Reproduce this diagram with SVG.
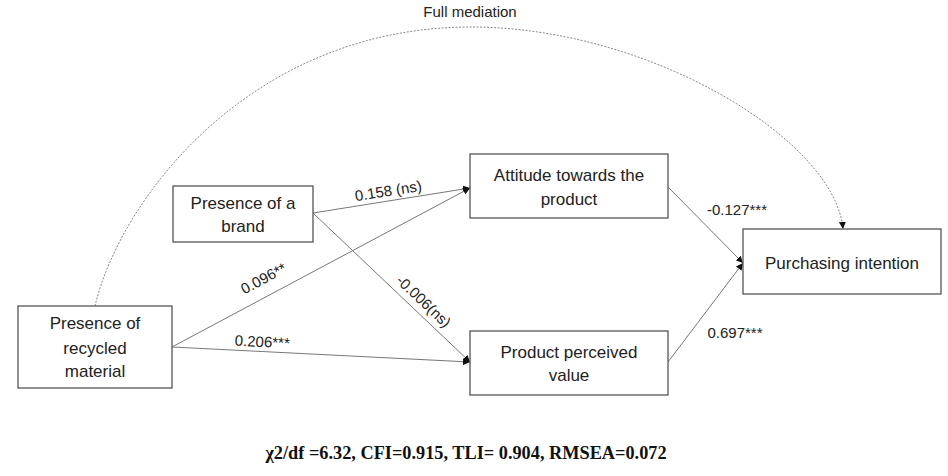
<svg xmlns="http://www.w3.org/2000/svg" width="948" height="476" viewBox="0 0 948 476">
<style>
.box{fill:#fff;stroke:#555;stroke-width:1.3}
.nt{font-family:"Liberation Sans",Arial,sans-serif;font-size:17px;fill:#222;text-anchor:middle;dominant-baseline:central}
.el{font-family:"Liberation Sans",Arial,sans-serif;font-size:15px;fill:#222;text-anchor:middle}
.ln{fill:none;stroke:#777;stroke-width:1;marker-end:url(#ah)}
.dash{fill:none;stroke:#888;stroke-width:1;stroke-dasharray:2 1.5;marker-end:url(#ah)}
</style>
<defs>
<marker id="ah" viewBox="0 0 10 10" refX="10" refY="5" markerWidth="7" markerHeight="7" markerUnits="userSpaceOnUse" orient="auto">
<path d="M0,0 L10,5 L0,10 z" fill="#111"/>
</marker>
</defs>
<rect width="948" height="476" fill="#fff"/>
<g id="connectors">
<path class="dash" d="M95,306 C120,200 250,27 471,27 C650,27 835,140 843,229"/>
<line class="ln" x1="313" y1="213" x2="470" y2="188"/>
<line class="ln" x1="172" y1="347" x2="470" y2="188"/>
<line class="ln" x1="172" y1="347" x2="470" y2="362"/>
<line class="ln" x1="313" y1="213" x2="470" y2="362"/>
<line class="ln" x1="668" y1="187" x2="743" y2="263"/>
<line class="ln" x1="668" y1="362" x2="743" y2="263"/>
<text class="el" x="470" y="17">Full mediation</text>
<text class="el" transform="translate(389,196) rotate(-9)">0.158 (ns)</text>
<text class="el" transform="translate(266,283) rotate(-28)">0.096**</text>
<text class="el" transform="translate(420,305) rotate(43.5)">-0.006(ns)</text>
<text class="el" transform="translate(262,347) rotate(3)">0.206***</text>
<text class="el" x="737" y="215">-0.127***</text>
<text class="el" x="735" y="338">0.697***</text>
</g>
<g id="brand">
<rect class="box" x="173" y="186" width="140" height="56"/>
<text class="nt" x="243" y="203">Presence of a</text>
<text class="nt" x="243" y="226">brand</text>
</g>
<g id="recycled">
<rect class="box" x="18" y="306" width="154" height="82"/>
<text class="nt" x="95" y="323">Presence of</text>
<text class="nt" x="95" y="348">recycled</text>
<text class="nt" x="95" y="371">material</text>
</g>
<g id="attitude">
<rect class="box" x="470" y="154" width="198" height="64"/>
<text class="nt" x="569" y="175">Attitude towards the</text>
<text class="nt" x="569" y="199">product</text>
</g>
<g id="value">
<rect class="box" x="470" y="331" width="198" height="64"/>
<text class="nt" x="569" y="352">Product perceived</text>
<text class="nt" x="569" y="375">value</text>
</g>
<g id="intention">
<rect class="box" x="743" y="229" width="198" height="65"/>
<text class="nt" x="842" y="263">Purchasing intention</text>
</g>
<text x="466" y="459" font-family="'Liberation Serif','Times New Roman',serif" font-size="18.3" font-weight="bold" text-anchor="middle" fill="#111">χ2/df =6.32, CFI=0.915, TLI= 0.904, RMSEA=0.072</text>
</svg>
